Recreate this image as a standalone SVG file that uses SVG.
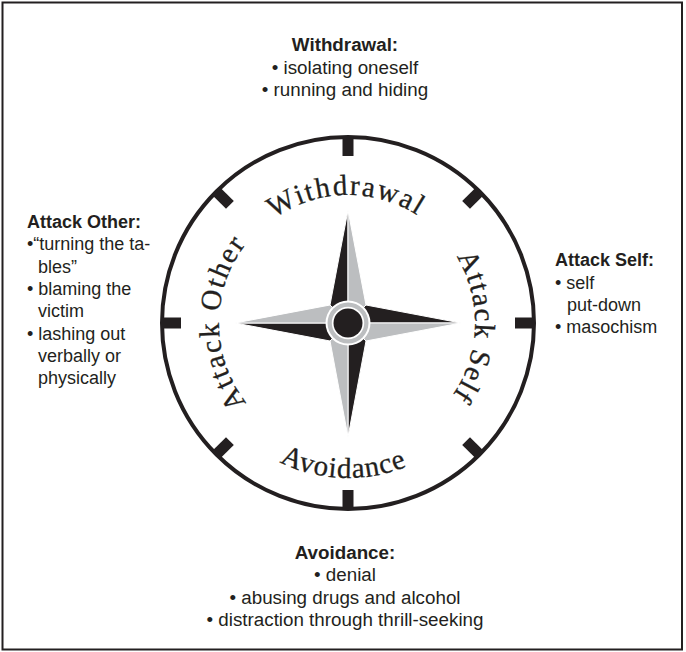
<svg xmlns="http://www.w3.org/2000/svg" width="686" height="652" viewBox="0 0 686 652">
<style>
.lbl{font-family:"Liberation Sans",Arial,sans-serif;font-size:18px;fill:#231f20}
.c{font-size:18.8px}
.b{font-weight:bold}
.arc{font-family:"Liberation Serif","Times New Roman",serif;font-size:29px;fill:#231f20;stroke:#231f20;stroke-width:0.3}
.dk{fill:#231f20;stroke:#fff;stroke-width:1;stroke-linejoin:round}
.lt{fill:#bcbec0;stroke:#fff;stroke-width:1;stroke-linejoin:round}
.tick{fill:#231f20}
</style>
<defs>
<path id="pW" d="M220,323 A128,128 0 0 1 476,323"/>
<path id="pS" d="M348,196 A127,127 0 0 1 348,450"/>
<path id="pO" d="M348,452 A129,129 0 0 1 348,194"/>
<path id="pA" d="M193,323 A155,155 0 0 0 503,323"/>
</defs>
<rect x="2.5" y="2.5" width="679.5" height="647" fill="#fff" stroke="#231f20" stroke-width="2"/>
<g id="compass">
<circle cx="348" cy="323" r="186" fill="none" stroke="#231f20" stroke-width="4"/>
<g transform="translate(348,323)">
<rect class="tick" x="-5.5" y="-187" width="11" height="20"/>
<rect class="tick" x="-5.5" y="-187" width="11" height="20" transform="rotate(45)"/>
<rect class="tick" x="-5.5" y="-187" width="11" height="20" transform="rotate(90)"/>
<rect class="tick" x="-5.5" y="-187" width="11" height="20" transform="rotate(135)"/>
<rect class="tick" x="-5.5" y="-187" width="11" height="20" transform="rotate(180)"/>
<rect class="tick" x="-5.5" y="-187" width="11" height="20" transform="rotate(225)"/>
<rect class="tick" x="-5.5" y="-187" width="11" height="20" transform="rotate(270)"/>
<rect class="tick" x="-5.5" y="-187" width="11" height="20" transform="rotate(315)"/>
</g>
<g id="star">
<path class="dk" d="M348,210 L330,305 L348,323 Z"/>
<path class="lt" d="M348,210 L366,305 L348,323 Z"/>
<path class="dk" d="M461,323 L366,305 L348,323 Z"/>
<path class="lt" d="M461,323 L366,341 L348,323 Z"/>
<path class="dk" d="M348,437 L366,341 L348,323 Z"/>
<path class="lt" d="M348,437 L330,341 L348,323 Z"/>
<path class="dk" d="M235,323 L330,341 L348,323 Z"/>
<path class="lt" d="M235,323 L330,305 L348,323 Z"/>
<circle cx="348" cy="323" r="22.5" fill="#fff"/>
<circle cx="348" cy="323" r="20.5" fill="#bcbec0"/>
<circle cx="348" cy="323" r="16.2" fill="#fff"/>
<circle cx="348" cy="323" r="14.5" fill="#231f20"/>
</g>
</g>
<g id="ring-labels">
<text class="arc" letter-spacing="1.8"><textPath href="#pW" startOffset="49.5%" text-anchor="middle">Withdrawal</textPath></text>
<text class="arc" letter-spacing="1.5"><textPath href="#pS" startOffset="51%" text-anchor="middle">Attack Self</textPath></text>
<text class="arc" letter-spacing="1.8"><textPath href="#pO" startOffset="50%" text-anchor="middle">Attack Other</textPath></text>
<text class="arc" letter-spacing="1"><textPath href="#pA" startOffset="49%" text-anchor="middle">Avoidance</textPath></text>
</g>
<g id="withdrawal">
<text class="lbl c b" x="345" y="51" text-anchor="middle">Withdrawal:</text>
<text class="lbl c" x="345" y="73.5" text-anchor="middle">• isolating oneself</text>
<text class="lbl c" x="345" y="96" text-anchor="middle">• running and hiding</text>
</g>
<g id="attack-other">
<text class="lbl b" x="27" y="228">Attack Other:</text>
<text class="lbl" x="27" y="250">•“turning the ta-</text>
<text class="lbl" x="38" y="272.5">bles”</text>
<text class="lbl" x="27" y="295">• blaming the</text>
<text class="lbl" x="38" y="317">victim</text>
<text class="lbl" x="27" y="340">• lashing out</text>
<text class="lbl" x="38" y="362">verbally or</text>
<text class="lbl" x="38" y="384">physically</text>
</g>
<g id="attack-self">
<text class="lbl b" x="555" y="266">Attack Self:</text>
<text class="lbl" x="555" y="288.5">• self</text>
<text class="lbl" x="567" y="311">put-down</text>
<text class="lbl" x="555" y="333">• masochism</text>
</g>
<g id="avoidance">
<text class="lbl c b" x="345" y="559" text-anchor="middle">Avoidance:</text>
<text class="lbl c" x="345" y="581" text-anchor="middle">• denial</text>
<text class="lbl c" x="345" y="604" text-anchor="middle">• abusing drugs and alcohol</text>
<text class="lbl c" x="345" y="626" text-anchor="middle">• distraction through thrill-seeking</text>
</g>
</svg>
